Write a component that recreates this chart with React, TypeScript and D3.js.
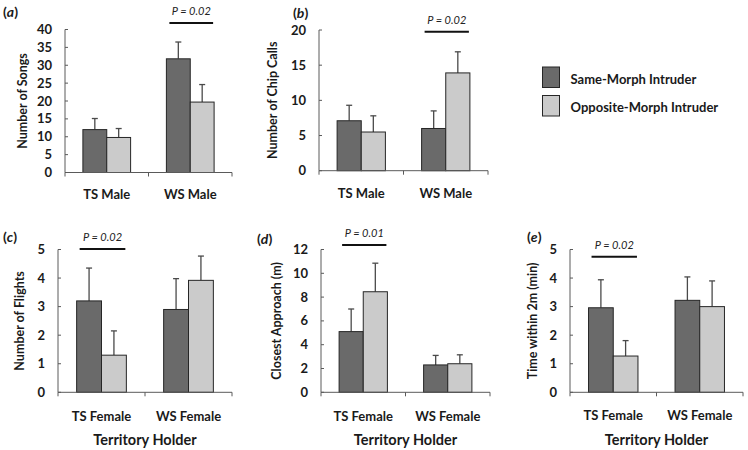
import React from "react";
import * as d3 from "d3";

const series = ["Same-Morph Intruder", "Opposite-Morph Intruder"];
const maleCats = ["TS Male", "WS Male"];
const femaleCats = ["TS Female", "WS Female"];

// (a) Number of Songs
const songsSame = [12.0, 31.8];
const songsSameSE = [3.1, 4.7];
const songsOpp = [9.8, 19.7];
const songsOppSE = [2.5, 4.9];
const songsTicks = [0, 5, 10, 15, 20, 25, 30, 35, 40];

// (b) Number of Chip Calls
const chipSame = [7.1, 6.0];
const chipSameSE = [2.2, 2.5];
const chipOpp = [5.5, 13.9];
const chipOppSE = [2.3, 3.0];
const chipTicks = [0, 5, 10, 15, 20];

// (c) Number of Flights
const flightsSame = [3.2, 2.9];
const flightsSameSE = [1.15, 1.08];
const flightsOpp = [1.3, 3.92];
const flightsOppSE = [0.85, 0.85];
const flightsTicks = [0, 1, 2, 3, 4, 5];

// (d) Closest Approach (m)
const approachSame = [5.1, 2.3];
const approachSameSE = [1.9, 0.8];
const approachOpp = [8.45, 2.4];
const approachOppSE = [2.4, 0.75];
const approachTicks = [0, 2, 4, 6, 8, 10, 12];

// (e) Time within 2m (min)
const timeSame = [2.96, 3.22];
const timeSameSE = [0.98, 0.82];
const timeOpp = [1.27, 3.0];
const timeOppSE = [0.54, 0.9];
const timeTicks = [0, 1, 2, 3, 4, 5];

const pValues = ["P = 0.02", "P = 0.02", "P = 0.02", "P = 0.01", "P = 0.02"];
const sigCategory = [1, 1, 0, 0, 0];

const FONT = "Lato, 'Open Sans', sans-serif";
const DARK = "#6a6a6a";
const LIGHT = "#cbcbcb";
const colors = [DARK, LIGHT];

type PanelProps = {
  label: string;
  title: string;
  cats: string[];
  same: number[];
  sameSE: number[];
  opp: number[];
  oppSE: number[];
  ticks: number[];
  p: string;
  sigCat: number;
  left: number;
  right: number;
  top: number;
  bottom: number;
  titleDx: number;
  labelX: number;
  labelY: number;
  sigDy: number;
  catDy: number;
  holder: boolean;
};

function Panel(props: PanelProps) {
  const { cats, same, sameSE, opp, oppSE, ticks, left, right, top, bottom } = props;
  const y = d3.scaleLinear().domain([0, ticks[ticks.length - 1]]).range([bottom, top]);
  const x0 = d3.scaleBand<string>().domain(cats).range([left, right]).padding(0);
  const bw = x0.bandwidth();
  const groupW = (bw * 2) / 3.5;
  const x1 = d3.scaleBand<string>().domain(series).range([0, groupW]).padding(0);
  const vals = [same, opp];
  const ses = [sameSE, oppSE];
  const groupStart = (c: string) => (x0(c) as number) + (bw - groupW) / 2;
  const sigC = cats[props.sigCat];
  const sigX1 = groupStart(sigC) + 3;
  const sigX2 = groupStart(sigC) + groupW - 1;
  const sigY = top + props.sigDy;
  const midY = (top + bottom) / 2;
  const axisColor = "#5a5a5a";
  return (
    <g>
      {cats.map((c, ci) =>
        series.map((s, si) => {
          const bx = groupStart(c) + (x1(s) as number);
          const v = vals[si][ci];
          const e = ses[si][ci];
          const cx = bx + x1.bandwidth() / 2;
          return (
            <g key={c + s}>
              <line x1={cx} x2={cx} y1={y(v)} y2={y(v + e)} stroke="#4a4a4a" strokeWidth={1.3} />
              <line x1={cx - 3} x2={cx + 3} y1={y(v + e)} y2={y(v + e)} stroke="#4a4a4a" strokeWidth={1.3} />
              <rect x={bx} y={y(v)} width={x1.bandwidth()} height={bottom - y(v)} fill={colors[si]} stroke="#262626" strokeWidth={1} />
            </g>
          );
        })
      )}
      <line x1={left} x2={left} y1={top} y2={bottom} stroke={axisColor} strokeWidth={1} />
      {ticks.map((t) => (
        <g key={t}>
          <line x1={left} x2={left + 3} y1={y(t)} y2={y(t)} stroke={axisColor} strokeWidth={1} />
          <text x={left - 13} y={y(t)} dy="0.35em" textAnchor="end" fontFamily={FONT} fontWeight="bold" fontSize={13} fill="#1a1a1a">
            {t}
          </text>
        </g>
      ))}
      <line x1={left} x2={right} y1={bottom} y2={bottom} stroke={axisColor} strokeWidth={1} />
      {[left, left + bw, right].map((tx, i) => (
        <line key={i} x1={tx} x2={tx} y1={bottom} y2={bottom + 4} stroke={axisColor} strokeWidth={1} />
      ))}
      {cats.map((c) => (
        <text key={c} x={groupStart(c) + groupW / 2} y={bottom + props.catDy} dy="0.35em" textAnchor="middle" fontFamily={FONT} fontWeight="bold" fontSize={13} fill="#1a1a1a">
          {c}
        </text>
      ))}
      {props.holder && (
        <text x={left + bw} y={440} dy="0.35em" textAnchor="middle" fontFamily={FONT} fontWeight="bold" fontSize={14.5} fill="#1a1a1a">
          Territory Holder
        </text>
      )}
      <text transform={`translate(${left + props.titleDx},${midY}) rotate(-90)`} dy="0.35em" textAnchor="middle" fontFamily={FONT} fontWeight="bold" fontSize={12.5} fill="#1a1a1a">
        {props.title}
      </text>
      <text x={props.labelX} y={props.labelY} dy="0.35em" fontFamily={FONT} fontWeight="bold" fontSize={14} fill="#1a1a1a">
        (<tspan fontStyle="italic">{props.label}</tspan>)
      </text>
      <line x1={sigX1} x2={sigX2} y1={sigY} y2={sigY} stroke="#111" strokeWidth={2} />
      <text x={(sigX1 + sigX2) / 2} y={sigY - 12} dy="0.35em" textAnchor="middle" fontFamily={FONT} fontStyle="italic" fontSize={11} fill="#222">
        {props.p}
      </text>
    </g>
  );
}

export default function App() {
  return (
    <svg width={748} height={450} style={{ position: "absolute", left: 0, top: 0, background: "#fff" }}>
      <rect width={748} height={450} fill="#fff" />
      <Panel label="a" title="Number of Songs" cats={maleCats} same={songsSame} sameSE={songsSameSE} opp={songsOpp} oppSE={songsOppSE}
        ticks={songsTicks} p={pValues[0]} sigCat={sigCategory[0]} left={65} right={232} top={29.5} bottom={172.5}
        titleDx={-42} labelX={3} labelY={12} sigDy={-6.5} catDy={21.5} holder={false} />
      <Panel label="b" title="Number of Chip Calls" cats={maleCats} same={chipSame} sameSE={chipSameSE} opp={chipOpp} oppSE={chipOppSE}
        ticks={chipTicks} p={pValues[1]} sigCat={sigCategory[1]} left={319} right={488} top={30} bottom={170.7}
        titleDx={-46} labelX={293} labelY={13.5} sigDy={1.7} catDy={23} holder={false} />
      <Panel label="c" title="Number of Flights" cats={femaleCats} same={flightsSame} sameSE={flightsSameSE} opp={flightsOpp} oppSE={flightsOppSE}
        ticks={flightsTicks} p={pValues[2]} sigCat={sigCategory[2]} left={58} right={232} top={249.5} bottom={392.3}
        titleDx={-38.5} labelX={3} labelY={237.5} sigDy={-0.5} catDy={24} holder={true} />
      <Panel label="d" title="Closest Approach (m)" cats={femaleCats} same={approachSame} sameSE={approachSameSE} opp={approachOpp} oppSE={approachOppSE}
        ticks={approachTicks} p={pValues[3]} sigCat={sigCategory[3]} left={321} right={490} top={249.5} bottom={392.3}
        titleDx={-44} labelX={257} labelY={239} sigDy={-4.5} catDy={24} holder={true} />
      <Panel label="e" title="Time within 2m (min)" cats={femaleCats} same={timeSame} sameSE={timeSameSE} opp={timeOpp} oppSE={timeOppSE}
        ticks={timeTicks} p={pValues[4]} sigCat={sigCategory[4]} left={570} right={743} top={249.5} bottom={392.3}
        titleDx={-37} labelX={527} labelY={237} sigDy={7.2} catDy={23} holder={true} />
      {series.map((s, i) => (
        <g key={s}>
          <rect x={542.5} y={i === 0 ? 67 : 95.5} width={17} height={20.5} fill={colors[i]} stroke="#262626" strokeWidth={1} />
          <text x={570.5} y={i === 0 ? 79.3 : 107.3} dy="0.35em" fontFamily={FONT} fontWeight="bold" fontSize={13} fill="#1a1a1a">
            {s}
          </text>
        </g>
      ))}
    </svg>
  );
}
